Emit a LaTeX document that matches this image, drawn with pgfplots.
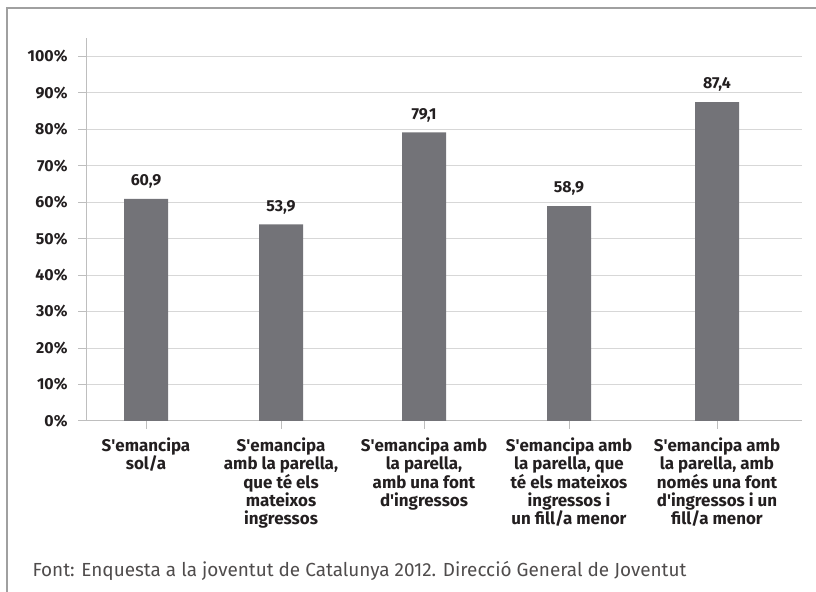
\documentclass[border=0pt]{standalone}
\usepackage{pgfplots}
\pgfplotsset{compat=1.18}
\usepackage{fontspec}
\setmainfont{Fira Sans}
\definecolor{barcol}{RGB}{115,115,120}
\definecolor{txt}{RGB}{35,31,32}
\definecolor{gridc}{RGB}{215,215,215}
\definecolor{axc}{RGB}{190,190,190}
\definecolor{framec}{RGB}{160,160,160}
\newcommand{\q}{\textquotesingle}
\begin{document}
\begin{tikzpicture}[x=1bp,y=1bp]
\useasboundingbox (0,0) rectangle (816,592);
\draw[framec, line width=1.5bp] (7,0) -- (7,584) -- (816,584);
% category positions follow the reference's (uneven) spacing
\begin{axis}[
    at={(86bp,171bp)}, anchor=south west,
    scale only axis,
    width=716bp, height=383bp,
    xmin=86, xmax=802,
    ymin=0, ymax=105,
    axis x line*=bottom, axis y line*=left,
    axis line style={axc, line width=1bp},
    ybar, bar width=44bp,
    xtick=data,
    xticklabels={
        {S\q emancipa\\sol/a},
        {S\q emancipa\\amb la parella,\\que té els\\mateixos\\ingressos},
        {S\q emancipa amb\\la parella,\\amb una font\\d\q ingressos},
        {S\q emancipa amb\\la parella, que\\té els mateixos\\ingressos i\\un fill/a menor},
        {S\q emancipa amb\\la parella, amb\\només una font\\d\q ingressos i un\\fill/a menor}
    },
    ytick={0,10,...,100},
    yticklabels={0\%,10\%,20\%,30\%,40\%,50\%,60\%,70\%,80\%,90\%,100\%},
    tick style={axc, line width=1bp},
    tick align=outside,
    major tick length=8bp,
    ymajorgrids,
    grid style={gridc, line width=1bp},
    xticklabel style={align=center, font=\fontsize{17}{18.5}\selectfont\bfseries, text=txt, yshift=-5bp},
    yticklabel style={font=\fontsize{16}{18}\selectfont\bfseries, text=txt, xshift=-7bp},
    nodes near coords,
    nodes near coords style={font=\fontsize{16}{18}\selectfont\bfseries, text=txt, yshift=7bp},
    /pgf/number format/.cd, use comma, fixed, fixed zerofill, precision=1, assume math mode=true,
]
\addplot[fill=barcol, draw=none] coordinates {
    (146,60.9)
    (281,53.9)
    (424,79.1)
    (569,58.9)
    (717,87.4)
};
\end{axis}
\node[anchor=west, font=\fontsize{19}{21}\selectfont, text=txt!80] at (29,21) {Font: Enquesta a la joventut de Catalunya 2012. Direcció General de Joventut};
\end{tikzpicture}
\end{document}
